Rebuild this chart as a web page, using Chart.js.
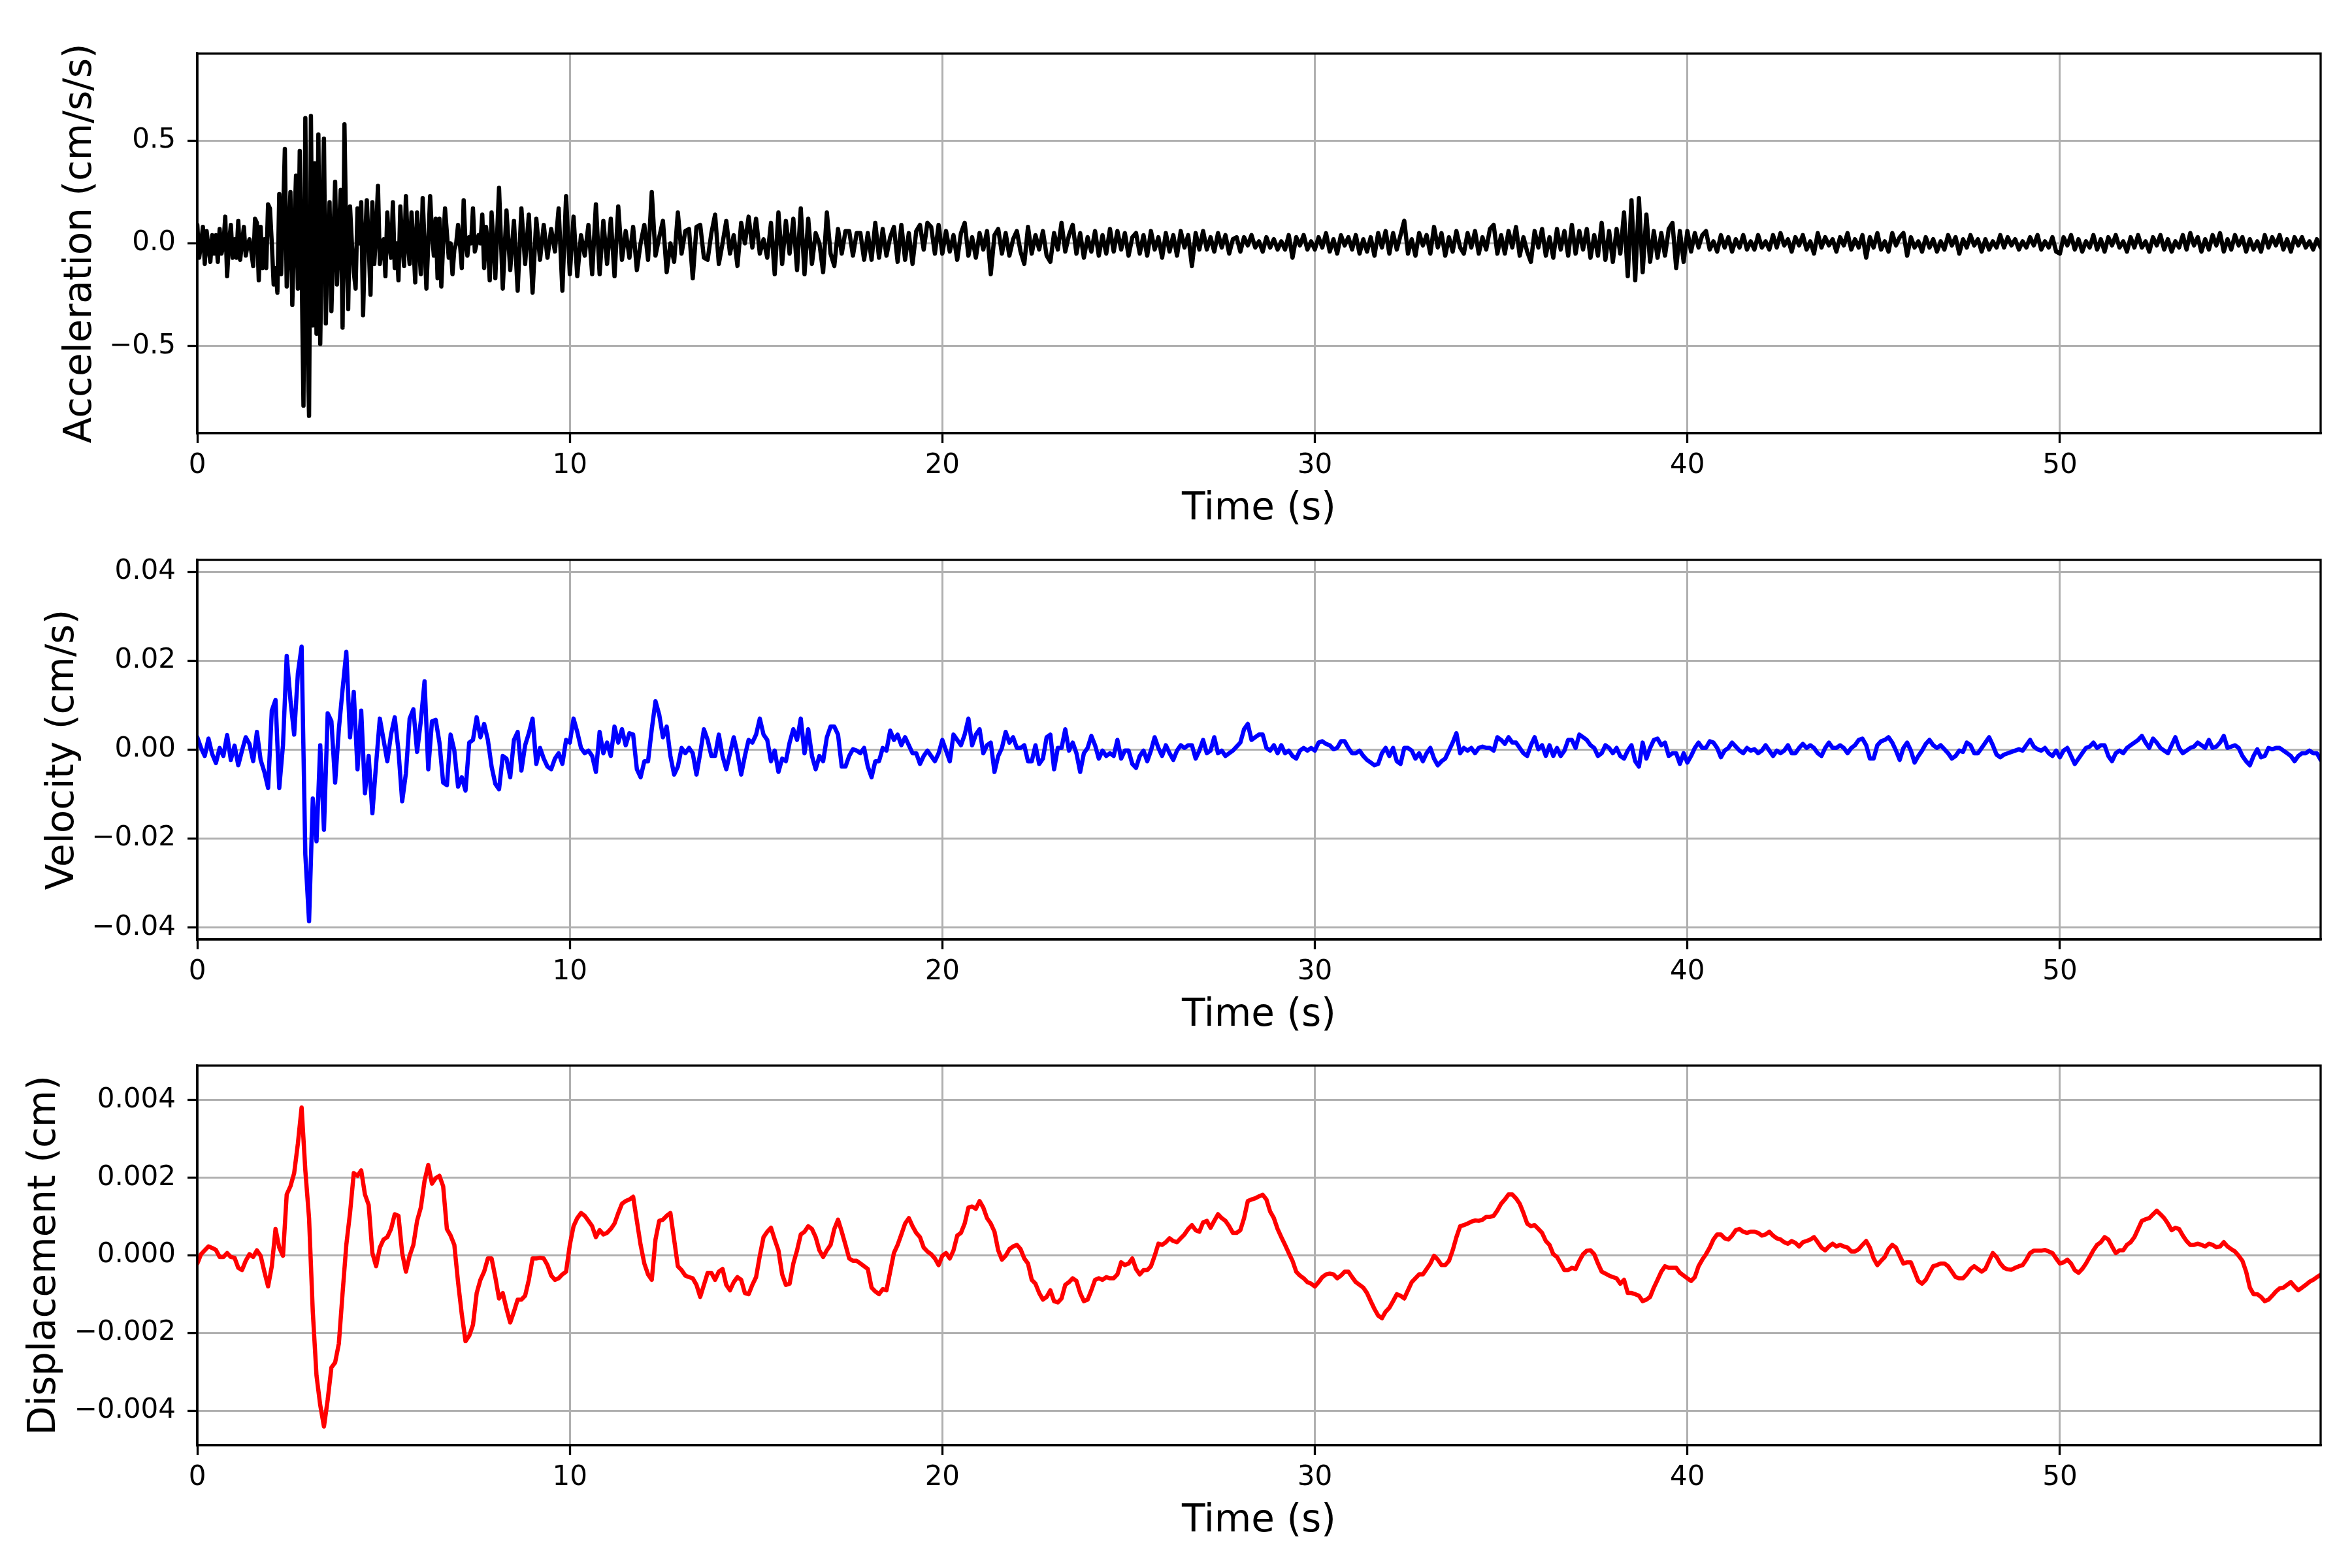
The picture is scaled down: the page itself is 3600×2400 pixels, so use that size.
<!DOCTYPE html>
<html>
<head>
<meta charset="utf-8">
<script src="https://cdn.jsdelivr.net/npm/chart.js@4.4.0/dist/chart.umd.min.js"></script>
<style>
  html, body { margin: 0; padding: 0; background: #fff; }
  body { width: 3600px; height: 2400px; position: relative; overflow: hidden; }
  .panel { position: absolute; left: 0; width: 3600px; height: 840px; }
</style>
</head>
<body>
<div class="panel" style="top:0px"><canvas id="accChart" width="3600" height="840"></canvas></div>
<div class="panel" style="top:775px"><canvas id="velChart" width="3600" height="840"></canvas></div>
<div class="panel" style="top:1549px"><canvas id="dispChart" width="3600" height="840"></canvas></div>
<script>
// time axis
const timeTicks = [0, 10, 20, 30, 40, 50];
const timeMax = 57.0;

// acceleration (cm/s/s): 0 - 8 s every 0.05 s
const accEarly = [
  0.09,-0.07,0,0.08,-0.1,0.06,-0.02,-0.09,0.04,-0.05,
  0.04,-0.09,0.07,-0.05,-0.01,0.13,-0.16,0,0.09,-0.07,
  0.02,-0.07,0.11,-0.08,0,0.08,-0.06,-0.01,0.02,-0.04,
  -0.11,0.12,0.1,-0.18,0.08,-0.12,0.02,-0.12,0.19,0.17,
  0,-0.2,-0.12,-0.24,0.24,-0.15,0.12,0.46,-0.21,0,
  0.25,-0.3,0.05,0.33,-0.22,0.45,-0.1,-0.79,0.61,-0.4,
  -0.84,0.62,-0.4,0.39,-0.44,0.53,-0.49,0.1,0.51,-0.39,
  0,0.2,-0.33,0,0.3,-0.2,0.05,0.26,-0.41,0.58,
  0,-0.32,0.18,0,-0.14,-0.22,0.17,0,0.2,-0.35,
  0,0.21,0,-0.25,0.2,-0.1,0.05,0.28,-0.1,-0.02,
  0.02,-0.16,0.15,0,-0.07,0.2,-0.12,0,-0.18,0.18,
  0,-0.11,0.23,0,-0.1,0.15,0,-0.19,0.15,0,
  -0.15,0.22,0,-0.22,0,0.23,0.05,-0.06,0.12,-0.17,
  0.12,-0.21,0,0.17,0.05,-0.07,0,-0.15,-0.03,0,
  0.09,0,-0.12,0.21,0,-0.06,0.03,0,0.17,-0.04,
  0,0.04,0,0.14,-0.12,0.08,0,-0.18,0.15,0,
  -0.17
];

// acceleration (cm/s/s): 8.1 - 57 s every 0.1 s
const accLate = [
  0.27,-0.22,0.16,-0.13,0.11,-0.23,0.17,-0.1,0.14,-0.24,
  0.12,-0.08,0.09,-0.07,0.07,-0.04,0.17,-0.23,0.23,-0.15,
  0.13,-0.16,0.04,-0.06,0.09,-0.15,0.19,-0.15,0.11,-0.1,
  0.12,-0.16,0.18,-0.08,0.06,-0.07,0.08,-0.13,0,0.09,
  -0.08,0.25,-0.06,0.03,0.11,-0.14,0,-0.09,0.15,-0.05,
  0.06,0.07,-0.17,0.08,0.09,-0.07,-0.08,0.05,0.14,-0.1,
  0,0.11,-0.05,0.04,-0.11,0.1,0,0.13,-0.02,0.12,
  -0.05,0.02,-0.07,0.1,-0.15,0.15,-0.1,0.11,-0.05,0.12,
  -0.13,0.17,-0.15,0.12,-0.1,0.05,0,-0.14,0.15,-0.05,
  -0.11,0.07,-0.05,0.06,0.06,-0.06,0.05,0.05,-0.08,0.05,
  -0.08,0.1,-0.07,0.07,-0.06,0.03,0.08,-0.09,0.09,-0.08,
  0.05,-0.1,0.06,0.09,-0.03,0.1,0.08,-0.05,0.09,-0.05,
  0.06,-0.04,0.04,-0.08,0.05,0.1,-0.06,0.03,-0.07,0.05,
  -0.03,0.06,-0.15,0.04,0.07,-0.05,0.05,-0.06,0.02,0.06,
  -0.04,-0.1,0.08,-0.05,0.04,-0.03,0.06,-0.06,-0.09,0.05,
  -0.03,0.1,-0.04,0.04,0.09,-0.05,0.05,-0.07,0.03,-0.04,
  0.06,-0.06,0.04,-0.05,0.07,-0.04,0.06,-0.03,0.05,-0.06,
  0.03,0.05,-0.05,0.04,-0.06,0.06,-0.03,0.03,-0.07,0.05,
  -0.04,0.04,-0.06,0.06,-0.02,0.04,-0.11,0.05,-0.03,0.06,
  -0.03,0.03,-0.04,0.05,-0.02,0.04,-0.05,0.02,0.03,-0.04,
  0.03,-0.01,0.04,-0.02,0.01,-0.04,0.03,-0.02,0.02,-0.03,
  0.01,-0.03,0.04,-0.07,0.03,-0.01,0.04,-0.03,0.01,-0.03,
  0.03,-0.02,0.05,-0.04,0.02,-0.05,0.04,-0.01,0.03,-0.03,
  0.04,-0.05,0.02,-0.04,0.03,-0.06,0.05,-0.02,0.06,-0.05,
  0.05,-0.03,0.04,0.11,-0.05,0.02,-0.06,0.05,-0.01,0.04,
  -0.05,0.08,-0.02,0.05,-0.06,0.03,-0.04,0.06,-0.02,-0.05,
  0.05,-0.02,0.06,-0.05,0.03,-0.03,0.07,0.09,-0.05,0.04,
  -0.05,0.06,-0.02,0.08,-0.06,0.03,-0.04,-0.09,0.06,-0.02,
  0.07,-0.06,0.03,-0.07,0.07,-0.03,0.06,-0.06,0.09,-0.05,
  0.06,-0.03,0.07,-0.07,0.04,-0.06,0.1,-0.08,0.06,-0.09,
  0.07,-0.05,0.15,-0.16,0.21,-0.18,0.22,-0.14,0.14,-0.09,
  0.06,-0.07,0.05,-0.06,0.07,0.1,-0.12,0.06,-0.09,0.06,
  -0.04,0.05,-0.02,0.04,0.06,-0.03,0.01,-0.04,0.04,-0.02,
  0.03,-0.04,0.02,-0.02,0.04,-0.03,0.01,-0.03,0.04,-0.02,
  0.01,-0.03,0.04,-0.02,0.05,-0.01,0.02,-0.04,0.03,-0.01,
  0.04,-0.03,0.01,-0.05,0.05,-0.02,0.03,-0.01,0.02,-0.04,
  0.03,-0.01,0.05,-0.03,0.02,-0.02,0.04,-0.07,0.03,-0.02,
  0.05,-0.03,0.01,-0.04,0.05,-0.01,0.03,0.05,-0.06,0.03,
  -0.02,0.01,-0.04,0.03,-0.02,0.02,-0.04,0.01,-0.03,0.04,
  -0.01,0.03,-0.05,0.02,-0.02,0.04,-0.01,0.02,-0.04,0.02,
  -0.03,0.01,-0.02,0.04,-0.02,0.03,-0.01,0.02,-0.03,0.01,
  -0.02,0.03,-0.01,0.04,-0.03,0.01,-0.02,0.03,-0.04,-0.05,
  0.03,-0.01,0.04,-0.03,0.02,-0.04,0.01,-0.02,0.04,-0.03,
  0.02,-0.04,0.03,-0.01,0.04,-0.02,0.01,-0.04,0.03,-0.02,
  0.04,-0.02,0.01,-0.04,0.03,-0.01,0.04,-0.03,0.02,-0.04,
  0.01,-0.02,0.04,-0.03,0.05,-0.01,0.03,-0.04,0.02,-0.03,
  0.04,-0.01,0.05,-0.04,0.02,-0.03,0.04,-0.01,0.03,-0.04,
  0.02,-0.03,0.01,-0.04,0.04,-0.02,0.03,-0.01,0.04,-0.03,
  0.02,-0.04,0.03,-0.01,0.03,-0.02,0.01,-0.03,0.02,-0.02
];

// velocity (cm/s): 0 - 57 s every 0.1 s
const velocity = [
  .0028,.0004,-.0014,.0025,-.001,-.003,.0004,-.0014,.0033,-.0023,
  .0009,-.0035,-.0002,.0028,.0013,-.0026,.004,-.0023,-.005,-.0086,
  .0088,.0112,-.0086,.001,.0211,.0112,.0034,.0172,.0232,-.0236,
  -.0386,-.011,-.0206,.001,-.018,.0082,.0064,-.0074,.0046,.0136,
  .022,.0028,.013,-.0044,.0088,-.0098,-.0014,-.0143,-.0032,.007,
  .0022,-.0026,.0034,.0073,-.0002,-.0116,-.0053,.007,.0091,-.0005,
  .0064,.0154,-.0044,.0064,.0067,.0016,-.0074,-.008,.0034,-.0002,
  -.0083,-.0062,-.0092,.0016,.0022,.0073,.0028,.0058,.0022,-.0038,
  -.0077,-.0089,-.0014,-.002,-.0062,.0022,.004,-.0047,.001,.0037,
  .007,-.0032,.0004,-.002,-.0038,-.0044,-.002,-.0008,-.0032,.0022,
  .0016,.007,.004,.0004,-.0008,-.0002,-.0014,-.005,.004,-.0008,
  .0016,-.0014,.0052,.0016,.0046,.001,.0037,.0034,-.0044,-.0062,
  -.0026,-.0026,.0046,.0109,.0079,.0028,.0052,-.0014,-.0056,-.0038,
  .0004,-.0008,.0004,-.0008,-.0056,-.0008,.0046,.0022,-.0014,-.0014,
  .0034,-.0014,-.0044,-.0008,.0028,-.0008,-.0056,-.0014,.0022,.0016,
  .0034,.007,.0034,.0022,-.0026,-.0002,-.005,-.002,-.0026,.0016,
  .0046,.0022,.007,-.0008,.0046,-.0014,-.0044,-.0014,-.0026,.0028,
  .0052,.0052,.0034,-.0038,-.0038,-.0014,.0001,-.0002,-.0008,.0004,
  -.0038,-.0062,-.0026,-.0026,.0004,-.0002,.0043,.0022,.0034,.001,
  .0028,.001,-.0008,-.0008,-.0032,-.0014,-.0002,-.0014,-.0026,-.0008,
  .0022,-.0002,-.0026,.0034,.0022,.001,.0034,.007,.001,.0034,
  .0046,-.0008,.001,.0016,-.005,-.0014,.0004,.004,.0016,.0028,
  .0004,.0004,.001,-.0026,-.0026,.001,-.0032,-.002,.0028,.0034,
  -.0044,.0004,.0004,.0046,-.0002,.0016,-.0008,-.005,-.0008,.0004,
  .0031,.001,-.002,-.0002,-.0014,-.0008,-.0014,.0022,-.002,-.0002,
  -.0002,-.0032,-.0041,-.0014,-.0002,-.0026,-.0002,.0028,.0004,-.0014,
  .001,-.0008,-.0023,-.0002,.001,.0004,.001,.001,-.002,-.0002,
  .0022,-.0008,-.0002,.0028,-.0008,-.0002,-.0014,-.0008,-.0002,.0007,
  .0016,.0046,.0058,.0022,.0028,.0034,.0034,.0004,-.0002,.001,
  -.0008,.001,-.0008,-.0002,-.0014,-.002,-.0002,.0004,-.0002,.0004,
  -.0002,.0016,.0019,.0013,.001,.0001,.0004,.0019,.0019,.0004,
  -.0008,-.0008,-.0002,-.0014,-.0023,-.0029,-.0035,-.0032,-.0008,.0004,
  -.0014,.0004,-.0026,-.0032,.0004,.0004,-.0002,-.002,-.0008,-.0026,
  -.0008,.0004,-.002,-.0035,-.0026,-.002,-.0002,.0016,.0037,-.0008,
  .0004,-.0002,.0004,-.0008,.0004,.0007,.0004,.0004,-.0002,.0028,
  .0022,.0013,.0028,.0016,.0016,.0004,-.0008,-.0014,.001,.0028,
  .0001,.001,-.0014,.001,-.0014,.0004,-.0014,-.0002,.0022,.0022,
  .0004,.0034,.0028,.0022,.001,.0004,-.0014,-.0008,.001,.0004,
  -.0008,.0004,-.0014,-.002,-.0002,.001,-.0026,-.0038,.0016,-.002,
  .0004,.0022,.0025,.001,.0016,-.0014,-.0008,-.0008,-.0032,-.0008,
  -.0029,-.0014,.0004,.0016,.0004,.0004,.0019,.0016,.0004,-.0017,
  -.0002,.0004,.0016,.0007,-.0002,-.0008,.0004,-.0002,.0001,-.0008,
  -.0002,.001,-.0002,-.0014,-.0002,-.0008,-.0002,.001,-.0008,-.0008,
  .0004,.0013,.0004,.001,.0004,-.0008,-.0014,.0004,.0016,.0004,
  .0004,.001,.0004,-.0008,.0004,.001,.0022,.0025,.001,-.002,
  -.002,.001,.0019,.0022,.0028,.0016,-.0002,-.0023,.0004,.0016,
  -.0002,-.0029,-.0014,-.0002,.0013,.0022,.001,.0004,.001,.0001,
  -.0008,-.002,-.0014,-.0002,-.0005,.0016,.001,-.0008,-.0008,.0004,
  .0016,.0028,.001,-.0011,-.0017,-.0011,-.0008,-.0005,-.0002,.0001,
  -.0002,.001,.0022,.0007,.0001,-.0002,.0004,-.0008,-.0014,-.0002,
  -.0017,-.0002,.0004,-.0014,-.0032,-.002,-.0008,.0004,.0007,.0016,
  .0004,.001,.001,-.0014,-.0026,-.0008,-.0002,-.0008,.0004,.001,
  .0016,.0022,.0031,.0016,.0004,.0025,.0016,.0004,-.0002,-.0008,
  .001,.0028,.0004,-.0008,-.0002,.0004,.0007,.0016,.001,.0004,
  .0022,.0004,.0007,.0016,.0031,.0004,.0007,.001,.0004,-.0014,
  -.0026,-.0035,-.0014,.0001,-.0017,-.0014,.0004,.0001,.0004,.0004,
  -.0002,-.0008,-.0014,-.0026,-.0014,-.0008,-.0008,-.0002,-.0008,-.0008,
  -.0023
];

// displacement (cm): 0 - 57 s every 0.1 s
const displacement = [
  -.00021,.00003,.00013,.00023,.00019,.00014,-.00004,-.00004,.00006,-.00004,
  -.00006,-.00032,-.00038,-.00014,.00003,-.00004,.00013,-.00001,-.00042,-.0008,
  -.00028,.00068,.0002,-.00001,.00157,.00178,.00212,.00288,.00381,.00219,
  .00096,-.00145,-.0031,-.00386,-.00441,-.00372,-.00289,-.00276,-.00227,-.00097,
  .00027,.00109,.00212,.00205,.00219,.00157,.0013,.00006,-.00028,.0002,
  .00041,.00047,.00068,.00106,.00102,.00006,-.00042,-.00001,.00027,.00089,
  .00123,.00192,.00233,.00185,.00199,.00205,.00178,.00068,.00051,.00027,
  -.00069,-.00152,-.00221,-.00207,-.00179,-.00097,-.00063,-.00042,-.00008,-.00008,
  -.00056,-.00111,-.00097,-.00138,-.00173,-.00145,-.00114,-.00114,-.00104,-.00063,
  -.00008,-.00008,-.00006,-.00008,-.00025,-.00052,-.00063,-.00059,-.00049,-.00042,
  .00027,.00075,.00096,.00109,.00102,.00089,.00075,.00047,.00065,.00054,
  .00058,.00068,.00082,.00109,.00133,.0014,.00144,.00151,.00089,.00027,
  -.00021,-.00049,-.00063,.00041,.00089,.00092,.00102,.00109,.00041,-.00028,
  -.00038,-.00052,-.00056,-.00059,-.00076,-.00107,-.00076,-.00045,-.00045,-.00063,
  -.00042,-.00035,-.00076,-.0009,-.00069,-.00056,-.00063,-.00097,-.001,-.00076,
  -.00056,-.00001,.00047,.00061,.00071,.00041,.00013,-.00049,-.00076,-.00073,
  -.00021,.00013,.00054,.00061,.00075,.00068,.00047,.00013,-.00004,.00013,
  .00027,.00068,.00092,.00061,.00027,-.00008,-.00014,-.00014,-.00021,-.00028,
  -.00035,-.00083,-.00093,-.001,-.00087,-.0009,-.00042,.00006,.00027,.00054,
  .00082,.00096,.00075,.00058,.00047,.0002,.0001,.00003,-.00008,-.00025,
  -.00001,.00006,-.00008,.00013,.00051,.00058,.00082,.00123,.00126,.0012,
  .0014,.00123,.00096,.00082,.00061,.00013,-.00011,-.00001,.00016,.00023,
  .00027,.00016,-.00008,-.00021,-.00063,-.00073,-.00097,-.00114,-.00107,-.0009,
  -.00118,-.00121,-.00111,-.00076,-.00069,-.00059,-.00066,-.00097,-.00118,-.00114,
  -.0009,-.00063,-.00059,-.00063,-.00056,-.00059,-.00059,-.00049,-.00018,-.00025,
  -.00021,-.00008,-.00035,-.00049,-.00038,-.00038,-.00028,-.00001,.0003,.00027,
  .00034,.00044,.00037,.00034,.00044,.00054,.00068,.00078,.00065,.00061,
  .00085,.00089,.00071,.00089,.00106,.00096,.00089,.00075,.00058,.00058,
  .00065,.00096,.0014,.00144,.00147,.00152,.00156,.00144,.00113,.00096,
  .00068,.00047,.00027,.00006,-.00014,-.00042,-.00052,-.00059,-.00069,-.00073,
  -.0008,-.00069,-.00056,-.00049,-.00047,-.00049,-.00059,-.00052,-.00042,-.00042,
  -.00056,-.00069,-.00076,-.00083,-.00097,-.00118,-.00138,-.00155,-.00162,-.00145,
  -.00135,-.00118,-.001,-.00104,-.00111,-.0009,-.00069,-.00059,-.00049,-.00049,
  -.00035,-.00021,-.00001,-.00011,-.00025,-.00025,-.00014,.00013,.00047,.00075,
  .00078,.00082,.00087,.0009,.00089,.00092,.00099,.00099,.00102,.00116,
  .00133,.00144,.00157,.00157,.00147,.00133,.00109,.00082,.00075,.00078,
  .00068,.00058,.00037,.00027,.00003,-.00004,-.00021,-.00038,-.00038,-.00032,
  -.00035,-.00014,.00003,.00012,.00013,.00003,-.00021,-.00042,-.00047,-.00052,
  -.00056,-.00059,-.00073,-.00063,-.00097,-.00097,-.001,-.00104,-.00118,-.00114,
  -.00107,-.00083,-.00063,-.00042,-.00028,-.00032,-.00032,-.00032,-.00045,-.00052,
  -.00059,-.00066,-.00056,-.00028,-.00011,.00003,.0002,.00041,.00054,.00054,
  .00044,.00041,.00051,.00065,.00068,.00061,.00058,.00061,.00061,.00058,
  .00051,.00054,.00061,.00051,.00044,.00041,.00034,.0003,.00037,.00032,
  .00023,.00034,.00037,.00041,.00047,.00034,.0002,.00013,.00023,.0003,
  .00023,.00027,.00023,.0002,.0001,.0001,.00016,.00027,.00037,.0002,
  -.00008,-.00025,-.00014,-.00004,.00016,.00027,.0002,-.00001,-.00021,-.00018,
  -.00018,-.00042,-.00066,-.00073,-.00063,-.00045,-.00028,-.00025,-.00021,-.00021,
  -.00028,-.00042,-.00056,-.00059,-.00059,-.00049,-.00035,-.00028,-.00035,-.00042,
  -.00035,-.00014,.00006,-.00004,-.00021,-.00032,-.00036,-.00037,-.00032,-.00028,
  -.00025,-.00011,.00006,.00012,.00012,.00012,.00014,.0001,.00006,-.00008,
  -.00021,-.00018,-.00011,-.00021,-.00038,-.00045,-.00035,-.00021,-.00004,.00013,
  .00027,.00034,.00047,.00041,.00023,.00006,.00013,.00013,.00027,.00034,
  .00047,.00068,.00089,.00093,.00096,.00106,.00115,.00106,.00096,.00082,
  .00065,.00071,.00068,.00051,.00037,.00027,.00027,.0003,.00027,.00023,
  .0003,.00027,.00021,.00023,.00034,.00023,.00016,.0001,-.00001,-.00014,
  -.00042,-.00083,-.001,-.001,-.00107,-.00118,-.00114,-.00104,-.00093,-.00085,
  -.00083,-.00076,-.00069,-.0008,-.0009,-.00083,-.00076,-.00068,-.00063,-.00056,
  -.0005
];

// tick labels
const accTicks = [-0.5, 0, 0.5];
const velTicks = [-0.04, -0.02, 0, 0.02, 0.04];
const dispTicks = [-0.004, -0.002, 0, 0.002, 0.004];

Chart.defaults.font.family = '"DejaVu Sans", "Liberation Sans", sans-serif';
Chart.defaults.color = '#000';

function sampled(values, t0, step) {
    return values.map((v, i) => ({ x: Math.round((t0 + i * step) * 100) / 100, y: v }));
}

function fmt(v, decimals) {
    const s = Math.abs(v).toFixed(decimals);
    return v < -1e-12 ? '\u2212' + s : s;
}

// top and right spines
const framePlugin = {
    id: 'frame',
    afterDatasetsDraw(chart) {
        const { ctx, chartArea: a } = chart;
        ctx.save();
        ctx.strokeStyle = '#000';
        ctx.lineWidth = 3.3;
        ctx.strokeRect(a.left, a.top, a.right - a.left, a.bottom - a.top);
        ctx.restore();
    }
};

function makePanel(canvasId, points, color, yTicks, decimals, yLimit, yTitle, padLeft) {
    const ctx = document.getElementById(canvasId).getContext('2d');
    return new Chart(ctx, {
        type: 'line',
        data: {
            datasets: [{
                data: points,
                borderColor: color,
                borderWidth: 6.5,
                borderJoinStyle: 'round',
                borderCapStyle: 'round',
                pointRadius: 0,
                tension: 0,
                fill: false
            }]
        },
        options: {
            responsive: false,
            animation: false,
            devicePixelRatio: 1,
            parsing: false,
            normalized: true,
            layout: { padding: { left: padLeft, top: 82, right: 48, bottom: 0 } },
            plugins: {
                legend: { display: false },
                tooltip: { enabled: false }
            },
            scales: {
                x: {
                    type: 'linear',
                    min: 0,
                    max: timeMax,
                    afterBuildTicks: s => { s.ticks = timeTicks.map(v => ({ value: v })); },
                    afterFit: s => { s.height = 177; },
                    ticks: {
                        font: { size: 42 },
                        padding: 10,
                        maxRotation: 0,
                        callback: v => String(v)
                    },
                    grid: {
                        color: '#b0b0b0',
                        lineWidth: 3,
                        tickLength: 15,
                        tickColor: '#000',
                        tickWidth: 3.3
                    },
                    border: { display: true, color: '#000', width: 3.3 },
                    title: {
                        display: true,
                        text: 'Time (s)',
                        font: { size: 58 },
                        padding: { top: 0, bottom: 25 }
                    }
                },
                y: {
                    type: 'linear',
                    min: -yLimit,
                    max: yLimit,
                    afterBuildTicks: s => { s.ticks = yTicks.map(v => ({ value: v })); },
                    afterFit: s => { s.width = 302 - padLeft; },
                    ticks: {
                        font: { size: 42 },
                        padding: 18,
                        callback: v => fmt(v, decimals)
                    },
                    grid: {
                        color: '#b0b0b0',
                        lineWidth: 3,
                        tickLength: 15,
                        tickColor: '#000',
                        tickWidth: 3.3
                    },
                    border: { display: true, color: '#000', width: 3.3 },
                    title: {
                        display: true,
                        text: yTitle,
                        font: { size: 58 },
                        padding: { top: 0, bottom: 0 }
                    }
                }
            }
        },
        plugins: [framePlugin]
    });
}

const accPoints = sampled(accEarly, 0, 0.05).concat(sampled(accLate, 8.1, 0.1));
makePanel('accChart', accPoints, '#000000', accTicks, 1, 0.924, 'Acceleration (cm/s/s)', 89);
makePanel('velChart', sampled(velocity, 0, 0.1), '#0000ff', velTicks, 2, 0.0427, 'Velocity (cm/s)', 62);
makePanel('dispChart', sampled(displacement, 0, 0.1), '#ff0000', dispTicks, 3, 0.00489, 'Displacement (cm)', 34);
</script>
</body>
</html>
